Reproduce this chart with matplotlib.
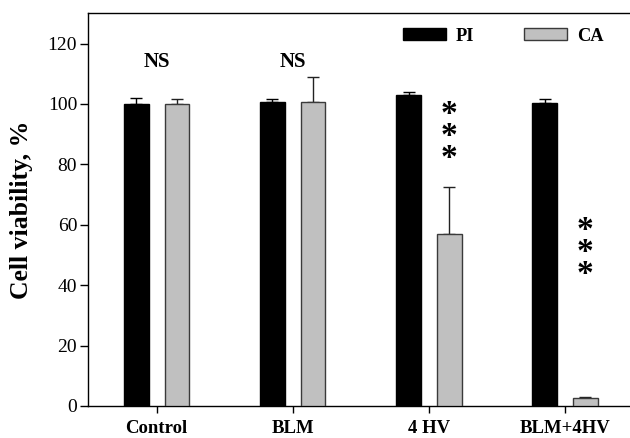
import matplotlib
matplotlib.use("Agg")
import matplotlib.pyplot as plt
import numpy as np
from matplotlib.patches import Patch

categories = ["Control", "BLM", "4 HV", "BLM+4HV"]
pi_vals = [100.0, 100.8, 102.8, 100.2]
pi_err = [1.9, 0.8, 1.0, 1.3]
ca_vals = [100.0, 100.8, 57.0, 2.5]
ca_err = [1.6, 8.2, 15.4, 0.4]
yticks = [0, 20, 40, 60, 80, 100, 120]

plt.rcParams['font.family'] = ['Liberation Serif', 'DejaVu Serif']

fig = plt.figure(figsize=(6.3, 4.38), dpi=100)
ax = fig.add_axes([88/630, 32/438, 541/630, (406-13.3)/438])

x = np.arange(len(categories))
w = 0.18
off = 0.15
ax.bar(x - off, pi_vals, w, color='black', edgecolor='black', linewidth=1, zorder=3)
ax.bar(x + off, ca_vals, w, color='#c0c0c0', edgecolor='#3a3a3a', linewidth=1, zorder=3)
ax.errorbar(x - off, pi_vals, yerr=[np.zeros(4), pi_err], fmt='none', ecolor='black',
            elinewidth=1, capsize=4.3, capthick=1, zorder=2)
ax.errorbar(x + off, ca_vals, yerr=[np.zeros(4), ca_err], fmt='none', ecolor='#222222',
            elinewidth=1, capsize=4.3, capthick=1, zorder=2)

ax.set_xlim(-0.505, 3.47)
ax.set_ylim(0, 130)
ax.set_yticks(yticks)
ax.set_xticks(x)
ax.set_xticklabels(categories, fontweight='bold', fontsize=13.5)
ax.tick_params(axis='y', labelsize=14, length=5.8, width=1, direction='out', pad=2)
ax.tick_params(axis='x', length=4.8, width=1, direction='out', pad=5)
ax.spines['right'].set_visible(False)
for s in ['left', 'bottom', 'top']:
    ax.spines[s].set_linewidth(1)
fig.text(22/630, 1 - 209.5/438, "Cell viability, %", rotation=90, ha='center', va='center',
         fontsize=18.5, fontweight='bold')

# annotations
ax.text(0, 114.0, "NS", ha='center', va='center', fontsize=15, fontweight='bold')
ax.text(1, 114.0, "NS", ha='center', va='center', fontsize=15, fontweight='bold')
ax.text(2 + off, 89.3, "*\n*\n*", ha='center', va='center', fontsize=24,
        fontweight='bold', linespacing=0.62)
ax.text(3 + off, 50.8, "*\n*\n*", ha='center', va='center', fontsize=24,
        fontweight='bold', linespacing=0.62)

handles = [Patch(facecolor='black', edgecolor='black', linewidth=1),
           Patch(facecolor='#c0c0c0', edgecolor='#3a3a3a', linewidth=1)]
leg = ax.legend(handles, ["PI", "CA"], ncol=2, frameon=False,
                loc='upper left', bbox_to_anchor=(388/630, 1 - 13/438),
                bbox_transform=fig.transFigure,
                prop={'weight': 'bold', 'size': 13.3},
                handlelength=2.32, handleheight=0.65, handletextpad=0.54,
                columnspacing=2.7, borderpad=0.3)

fig.savefig("out.png", dpi=100)
